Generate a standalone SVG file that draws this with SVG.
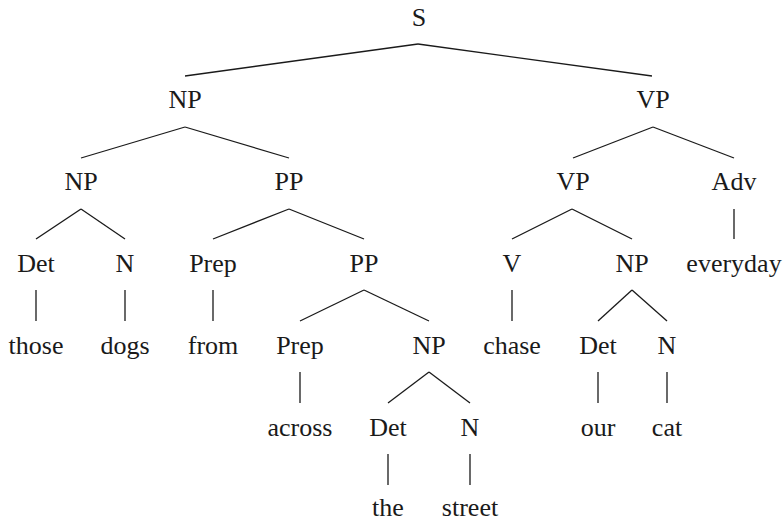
<svg xmlns="http://www.w3.org/2000/svg" width="783" height="522" viewBox="0 0 783 522">
  <style>
    .edges line { stroke: #1a1a1a; stroke-width: 1.3; fill: none; }
    .lbl { font-family: "Liberation Serif", "Times New Roman", serif; font-size: 26px; fill: #1a1a1a; text-anchor: middle; }
  </style>
  <rect width="783" height="522" fill="#ffffff"/>

  <!-- tree branches -->
  <g id="edges" class="edges">
    <line x1="418" y1="44" x2="185" y2="76"/>
    <line x1="418" y1="44" x2="652" y2="76"/>

    <line x1="185" y1="127" x2="81" y2="158"/>
    <line x1="185" y1="127" x2="289" y2="158"/>
    <line x1="653" y1="127" x2="573" y2="158"/>
    <line x1="653" y1="127" x2="734" y2="158"/>

    <line x1="81" y1="209" x2="36" y2="239"/>
    <line x1="81" y1="209" x2="125" y2="239"/>
    <line x1="289" y1="209" x2="213" y2="239"/>
    <line x1="289" y1="209" x2="364" y2="239"/>
    <line x1="572" y1="209" x2="512" y2="239"/>
    <line x1="572" y1="209" x2="632" y2="239"/>
    <line x1="734" y1="209" x2="734" y2="239"/>

    <line x1="36" y1="290" x2="36" y2="321"/>
    <line x1="125" y1="290" x2="125" y2="321"/>
    <line x1="213" y1="290" x2="213" y2="321"/>
    <line x1="364" y1="290" x2="300" y2="321"/>
    <line x1="364" y1="290" x2="429" y2="321"/>
    <line x1="512" y1="290" x2="512" y2="321"/>
    <line x1="632" y1="290" x2="598" y2="321"/>
    <line x1="632" y1="290" x2="667" y2="321"/>

    <line x1="300" y1="372" x2="300" y2="403"/>
    <line x1="429" y1="372" x2="388" y2="403"/>
    <line x1="429" y1="372" x2="470" y2="403"/>
    <line x1="598" y1="372" x2="598" y2="403"/>
    <line x1="667" y1="372" x2="667" y2="403"/>

    <line x1="388" y1="454" x2="388" y2="485"/>
    <line x1="470" y1="454" x2="470" y2="485"/>
  </g>

  <!-- level 0 -->
  <g id="s"><text class="lbl" x="419" y="26">S</text></g>

  <!-- level 1 -->
  <g id="np1"><text class="lbl" x="185" y="108">NP</text></g>
  <g id="vp1"><text class="lbl" x="653" y="108">VP</text></g>

  <!-- level 2 -->
  <g id="np2"><text class="lbl" x="81" y="190">NP</text></g>
  <g id="pp1"><text class="lbl" x="289" y="190">PP</text></g>
  <g id="vp2"><text class="lbl" x="573" y="190">VP</text></g>
  <g id="adv"><text class="lbl" x="734" y="190">Adv</text></g>

  <!-- level 3 -->
  <g id="det1"><text class="lbl" x="36" y="272">Det</text></g>
  <g id="n1"><text class="lbl" x="125" y="272">N</text></g>
  <g id="prep1"><text class="lbl" x="213" y="272">Prep</text></g>
  <g id="pp2"><text class="lbl" x="364" y="272">PP</text></g>
  <g id="v"><text class="lbl" x="512" y="272">V</text></g>
  <g id="np3"><text class="lbl" x="632" y="272">NP</text></g>
  <g id="w-everyday"><text class="lbl" x="734" y="272">everyday</text></g>

  <!-- level 4 -->
  <g id="w-those"><text class="lbl" x="36" y="354">those</text></g>
  <g id="w-dogs"><text class="lbl" x="125" y="354">dogs</text></g>
  <g id="w-from"><text class="lbl" x="213" y="354">from</text></g>
  <g id="prep2"><text class="lbl" x="300" y="354">Prep</text></g>
  <g id="np4"><text class="lbl" x="429" y="354">NP</text></g>
  <g id="w-chase"><text class="lbl" x="512" y="354">chase</text></g>
  <g id="det3"><text class="lbl" x="598" y="354">Det</text></g>
  <g id="n3"><text class="lbl" x="667" y="354">N</text></g>

  <!-- level 5 -->
  <g id="w-across"><text class="lbl" x="300" y="436">across</text></g>
  <g id="det2"><text class="lbl" x="388" y="436">Det</text></g>
  <g id="n2"><text class="lbl" x="470" y="436">N</text></g>
  <g id="w-our"><text class="lbl" x="598" y="436">our</text></g>
  <g id="w-cat"><text class="lbl" x="667" y="436">cat</text></g>

  <!-- level 6 -->
  <g id="w-the"><text class="lbl" x="388" y="516">the</text></g>
  <g id="w-street"><text class="lbl" x="470" y="516">street</text></g>
</svg>
